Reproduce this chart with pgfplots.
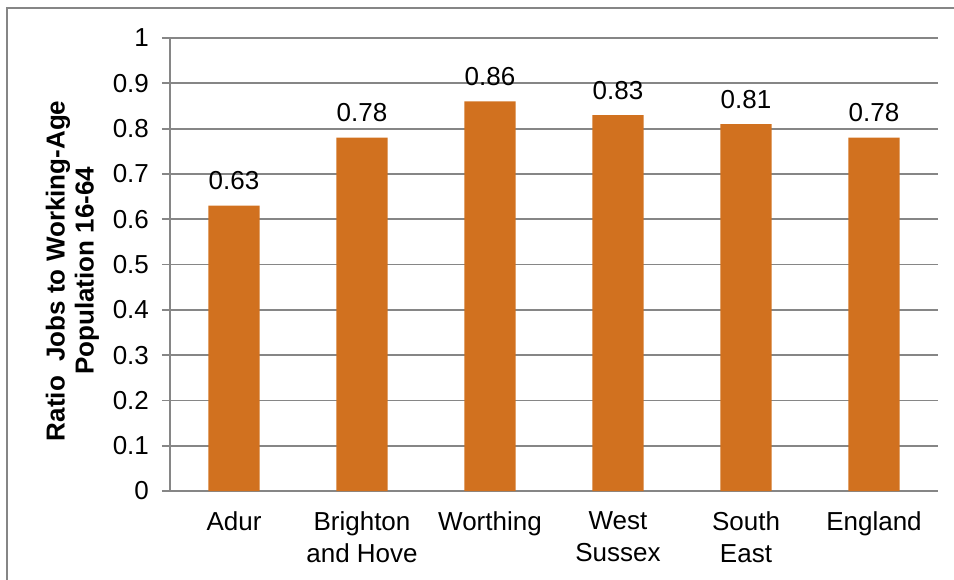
\documentclass[border=0pt]{standalone}
\usepackage{pgfplots}
\pgfplotsset{compat=1.18}
\usepackage{fontspec}
\setmainfont{Liberation Sans}
\usetikzlibrary{calc}

\definecolor{barorange}{RGB}{209,113,31}
\definecolor{gridgray}{RGB}{134,134,134}

\begin{document}
\begin{tikzpicture}
  \begin{axis}[
      name=ax,
      scale only axis,
      width=384pt, height=226.5pt,
      xmin=-0.5, xmax=5.5,
      ymin=0, ymax=1,
      ytick={0,0.1,...,1},
      xtick={0,1,2,3,4,5},
      xticklabels={Adur, Brighton\\and Hove, Worthing, West\\Sussex, South\\East, England},
      xticklabel style={align=center, font=\fontsize{13}{15.8}\selectfont, yshift=-3pt},
      yticklabel style={font=\fontsize{13}{15.8}\selectfont, xshift=-3pt},
      /pgf/number format/assume math mode=true,
      axis x line=bottom, axis y line=left,
      axis line style={-, gridgray, line width=0.9pt},
      tick align=outside,
      major tick length=4pt,
      x tick style={draw=none},
      y tick style={gridgray, line width=0.9pt},
      extra x ticks={-0.5,0.5,...,5.5},
      extra x tick labels={},
      extra x tick style={major tick length=4pt, tick style={draw=gridgray, line width=0.9pt}},
      ymajorgrids,
      grid style={gridgray, line width=0.9pt},
      ylabel={Ratio\ \ Jobs to Working-Age\\Population 16-64},
      ylabel style={at={(axis description cs:-0.127,0.486)}, anchor=center,
        align=center, font=\bfseries\fontsize{13}{14.5}\selectfont},
      nodes near coords,
      every node near coord/.append style={font=\fontsize{13}{15.8}\selectfont,
        yshift=4.2pt, /pgf/number format/fixed, /pgf/number format/precision=2,
        /pgf/number format/fixed zerofill},
    ]
    \addplot[ybar, bar width=25.7pt, fill=barorange, draw=none] coordinates {
        (0, 0.63)
        (1, 0.78)
        (2, 0.86)
        (3, 0.83)
        (4, 0.81)
        (5, 0.78)
      };
  \end{axis}
  \pgfresetboundingbox
  \path[use as bounding box] ($(ax.south west)+(-85pt,-44pt)$) rectangle ($(ax.north east)+(8pt,19pt)$);
  \draw[gridgray, line width=0.9pt] ($(ax.south west)+(-81.5pt,-60pt)$) rectangle ($(ax.north east)+(30pt,15pt)$);
\end{tikzpicture}
\end{document}
